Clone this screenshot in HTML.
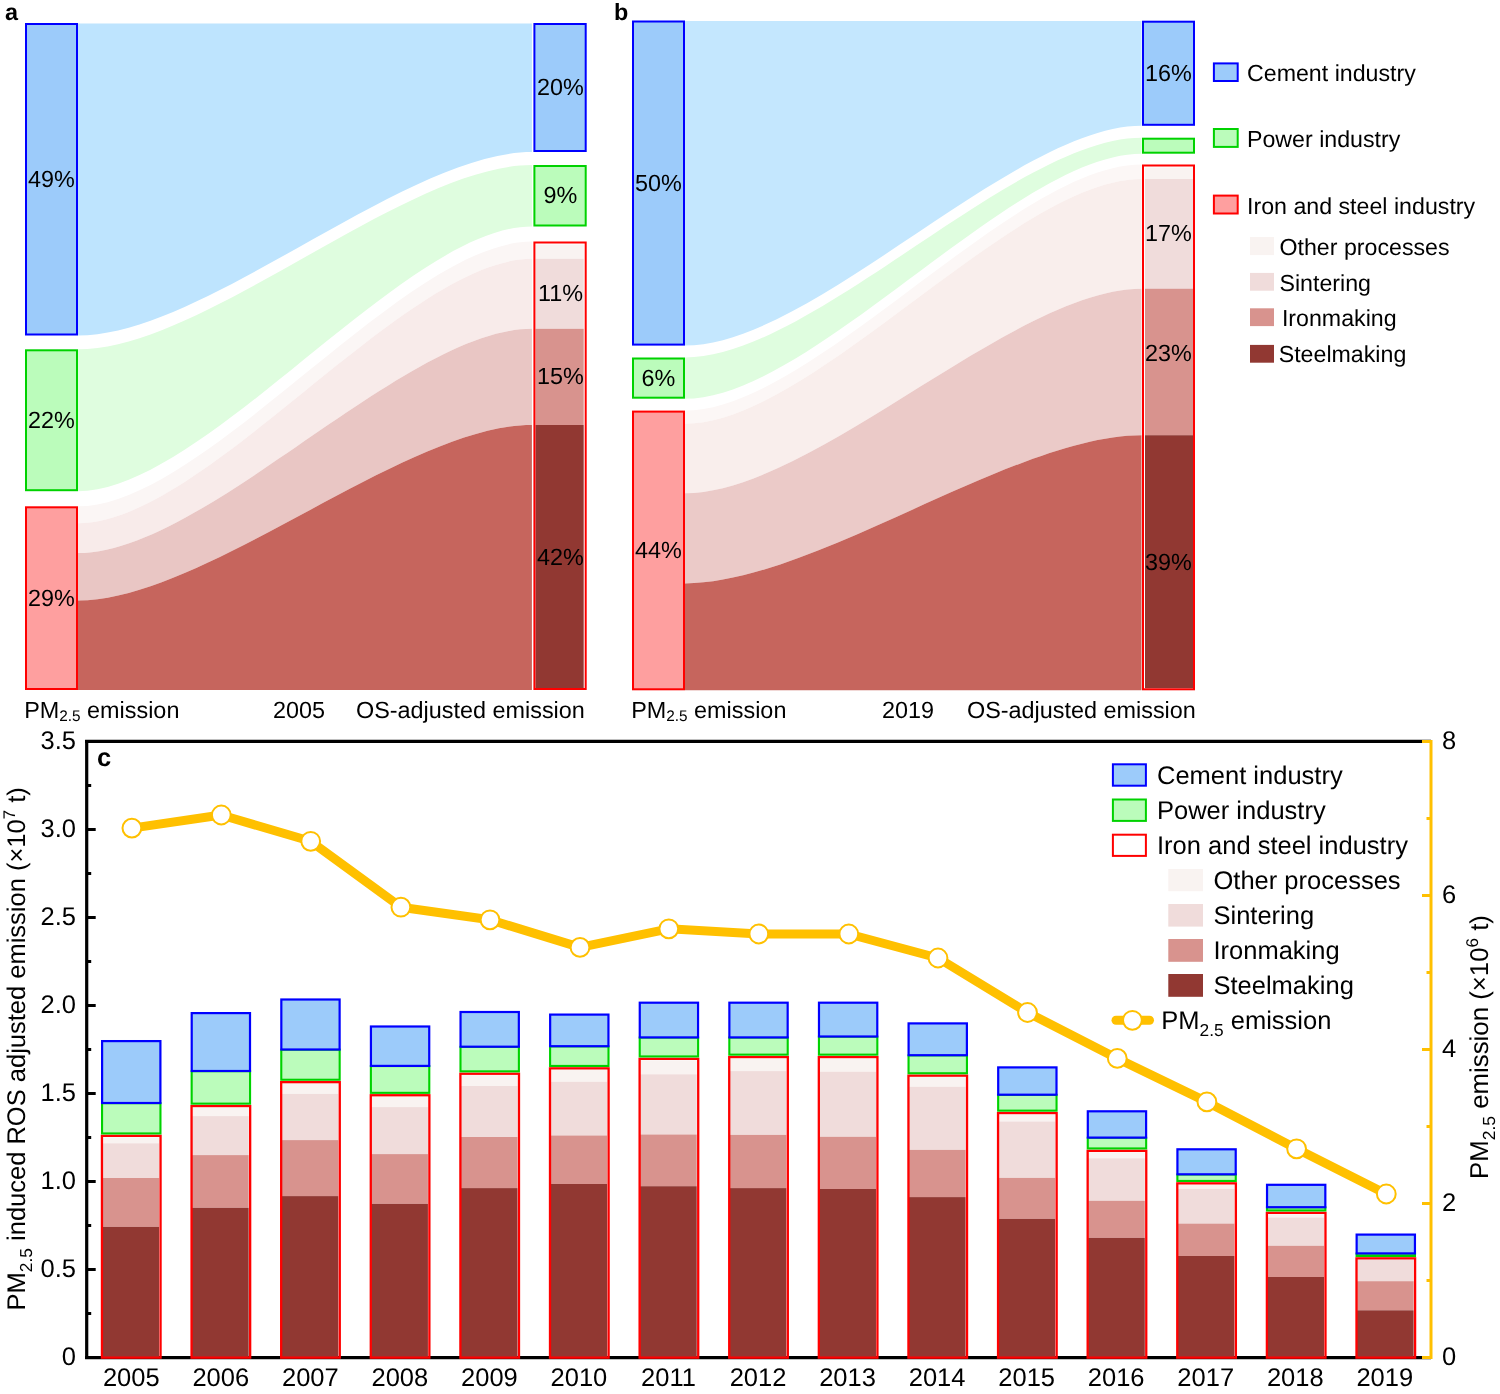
<!DOCTYPE html><html><head><meta charset="utf-8"><style>html,body{margin:0;padding:0;background:#fff;}svg{display:block;will-change:transform;text-rendering:geometricPrecision;}</style></head><body><svg width="1500" height="1394" viewBox="0 0 1500 1394" font-family='"Liberation Sans", sans-serif'>
<rect width="1500" height="1394" fill="#ffffff"/>
<path d="M78.00,23.50 C205.09,23.50 404.81,23.50 531.90,23.50 L531.90,152.00 C404.81,152.00 205.09,335.50 78.00,335.50 Z" fill="#bee4fe"/>
<path d="M78.00,349.30 C205.09,349.30 404.81,165.00 531.90,165.00 L531.90,226.50 C404.81,226.50 205.09,491.20 78.00,491.20 Z" fill="#dffddf"/>
<path d="M78.00,506.30 C205.09,506.30 404.81,241.50 531.90,241.50 L531.90,258.80 C404.81,258.80 205.09,523.20 78.00,523.20 Z" fill="#fbf6f5"/>
<path d="M78.00,523.20 C205.09,523.20 404.81,258.80 531.90,258.80 L531.90,328.80 C404.81,328.80 205.09,553.10 78.00,553.10 Z" fill="#f8ebea"/>
<path d="M78.00,553.10 C205.09,553.10 404.81,328.80 531.90,328.80 L531.90,425.00 C404.81,425.00 205.09,600.50 78.00,600.50 Z" fill="#e9c6c4"/>
<path d="M78.00,600.50 C205.09,600.50 404.81,425.00 531.90,425.00 L531.90,690.00 C404.81,690.00 205.09,690.00 78.00,690.00 Z" fill="#c6655d"/>
<rect x="26.00" y="24.00" width="51.00" height="310.50" fill="#9ccbfa" stroke="#0000ff" stroke-width="2"/>
<rect x="26.00" y="350.30" width="51.00" height="139.90" fill="#bbfcbb" stroke="#00d200" stroke-width="2"/>
<rect x="26.00" y="507.30" width="51.00" height="181.70" fill="#fe9f9f" stroke="#ff0000" stroke-width="2"/>
<rect x="534.40" y="24.00" width="51.30" height="127.00" fill="#9ccbfa" stroke="#0000ff" stroke-width="2"/>
<rect x="534.40" y="166.00" width="51.30" height="59.50" fill="#bbfcbb" stroke="#00d200" stroke-width="2"/>
<rect x="535.40" y="244.50" width="48.30" height="14.30" fill="#f9f3f1"/>
<rect x="535.40" y="258.80" width="48.30" height="70.00" fill="#f0dcdb"/>
<rect x="535.40" y="328.80" width="48.30" height="96.20" fill="#d8938e"/>
<rect x="535.40" y="425.00" width="48.30" height="263.00" fill="#913832"/>
<rect x="534.40" y="242.50" width="51.30" height="446.50" fill="none" stroke="#ff0000" stroke-width="2"/>
<text x="51.50" y="186.80" font-size="23.4" text-anchor="middle" font-weight="normal" >49%</text>
<text x="51.50" y="427.80" font-size="23.4" text-anchor="middle" font-weight="normal" >22%</text>
<text x="51.50" y="605.50" font-size="23.4" text-anchor="middle" font-weight="normal" >29%</text>
<text x="560.50" y="95.00" font-size="23.4" text-anchor="middle" font-weight="normal" >20%</text>
<text x="560.50" y="203.00" font-size="23.4" text-anchor="middle" font-weight="normal" >9%</text>
<text x="560.50" y="301.30" font-size="23.4" text-anchor="middle" font-weight="normal" >11%</text>
<text x="560.50" y="384.40" font-size="23.4" text-anchor="middle" font-weight="normal" >15%</text>
<text x="560.50" y="565.00" font-size="23.4" text-anchor="middle" font-weight="normal" >42%</text>
<path d="M685.00,21.00 C812.82,21.00 1013.68,21.00 1141.50,21.00 L1141.50,125.80 C1013.68,125.80 812.82,345.60 685.00,345.60 Z" fill="#c4e7fe"/>
<path d="M685.00,357.50 C812.82,357.50 1013.68,137.70 1141.50,137.70 L1141.50,153.70 C1013.68,153.70 812.82,398.70 685.00,398.70 Z" fill="#dffddf"/>
<path d="M685.00,410.60 C812.82,410.60 1013.68,164.50 1141.50,164.50 L1141.50,179.00 C1013.68,179.00 812.82,423.80 685.00,423.80 Z" fill="#fcf7f6"/>
<path d="M685.00,423.80 C812.82,423.80 1013.68,179.00 1141.50,179.00 L1141.50,288.70 C1013.68,288.70 812.82,493.20 685.00,493.20 Z" fill="#f9eeec"/>
<path d="M685.00,493.20 C812.82,493.20 1013.68,288.70 1141.50,288.70 L1141.50,435.20 C1013.68,435.20 812.82,583.40 685.00,583.40 Z" fill="#ebcac8"/>
<path d="M685.00,583.40 C812.82,583.40 1013.68,435.20 1141.50,435.20 L1141.50,690.30 C1013.68,690.30 812.82,690.30 685.00,690.30 Z" fill="#c6655d"/>
<rect x="633.00" y="21.50" width="51.00" height="323.10" fill="#9ccbfa" stroke="#0000ff" stroke-width="2"/>
<rect x="633.00" y="358.50" width="51.00" height="39.20" fill="#bbfcbb" stroke="#00d200" stroke-width="2"/>
<rect x="633.00" y="411.60" width="51.00" height="277.70" fill="#fe9f9f" stroke="#ff0000" stroke-width="2"/>
<rect x="1143.00" y="21.70" width="51.00" height="103.10" fill="#9ccbfa" stroke="#0000ff" stroke-width="2"/>
<rect x="1143.00" y="138.70" width="51.00" height="14.00" fill="#bbfcbb" stroke="#00d200" stroke-width="2"/>
<rect x="1145.00" y="167.50" width="48.00" height="11.50" fill="#f9f3f1"/>
<rect x="1145.00" y="179.00" width="48.00" height="109.70" fill="#f0dcdb"/>
<rect x="1145.00" y="288.70" width="48.00" height="146.50" fill="#d8938e"/>
<rect x="1145.00" y="435.20" width="48.00" height="253.10" fill="#913832"/>
<rect x="1143.00" y="165.50" width="51.00" height="523.80" fill="none" stroke="#ff0000" stroke-width="2"/>
<text x="658.50" y="190.50" font-size="23.4" text-anchor="middle" font-weight="normal" >50%</text>
<text x="658.50" y="385.50" font-size="23.4" text-anchor="middle" font-weight="normal" >6%</text>
<text x="658.50" y="558.00" font-size="23.4" text-anchor="middle" font-weight="normal" >44%</text>
<text x="1168.50" y="80.80" font-size="23.4" text-anchor="middle" font-weight="normal" >16%</text>
<text x="1168.50" y="241.40" font-size="23.4" text-anchor="middle" font-weight="normal" >17%</text>
<text x="1168.50" y="360.80" font-size="23.4" text-anchor="middle" font-weight="normal" >23%</text>
<text x="1168.50" y="570.20" font-size="23.4" text-anchor="middle" font-weight="normal" >39%</text>
<text x="5.00" y="20.30" font-size="23.4" text-anchor="start" font-weight="bold" >a</text>
<text x="614.00" y="20.00" font-size="23.4" text-anchor="start" font-weight="bold" >b</text>
<text x="24.20" y="717.60" font-size="23.4" text-anchor="start" font-weight="normal" >PM<tspan font-size="15.33" dy="3.74">2.5</tspan><tspan dy="-3.74"> </tspan>emission</text>
<text x="273.00" y="717.60" font-size="23.4" text-anchor="start" font-weight="normal" >2005</text>
<text x="356.00" y="717.60" font-size="23.4" text-anchor="start" font-weight="normal" >OS-adjusted emission</text>
<text x="631.20" y="717.60" font-size="23.4" text-anchor="start" font-weight="normal" >PM<tspan font-size="15.33" dy="3.74">2.5</tspan><tspan dy="-3.74"> </tspan>emission</text>
<text x="882.00" y="717.60" font-size="23.4" text-anchor="start" font-weight="normal" >2019</text>
<text x="967.00" y="717.60" font-size="23.4" text-anchor="start" font-weight="normal" >OS-adjusted emission</text>
<rect x="1213.90" y="63.40" width="23.80" height="17.60" fill="#9ccbfa" stroke="#0000ff" stroke-width="2"/>
<text x="1247.00" y="81.00" font-size="23.2" text-anchor="start" font-weight="normal" >Cement industry</text>
<rect x="1213.90" y="129.00" width="23.80" height="17.90" fill="#bbfcbb" stroke="#00d200" stroke-width="2"/>
<text x="1247.00" y="147.30" font-size="23.2" text-anchor="start" font-weight="normal" >Power industry</text>
<rect x="1213.90" y="195.60" width="23.80" height="17.90" fill="#fe9f9f" stroke="#ff0000" stroke-width="2"/>
<text x="1247.00" y="214.40" font-size="23.2" text-anchor="start" font-weight="normal" >Iron and steel industry</text>
<rect x="1250.00" y="237.00" width="24.00" height="18.10" fill="#f9f3f1"/>
<text x="1279.50" y="254.60" font-size="23.2" text-anchor="start" font-weight="normal" >Other processes</text>
<rect x="1250.00" y="272.90" width="24.00" height="17.80" fill="#f0dcdb"/>
<text x="1279.50" y="290.50" font-size="23.2" text-anchor="start" font-weight="normal" >Sintering</text>
<rect x="1250.00" y="308.30" width="24.00" height="17.80" fill="#d8938e"/>
<text x="1281.90" y="325.90" font-size="23.2" text-anchor="start" font-weight="normal" >Ironmaking</text>
<rect x="1250.00" y="344.90" width="24.00" height="17.80" fill="#913832"/>
<text x="1278.70" y="361.50" font-size="23.2" text-anchor="start" font-weight="normal" >Steelmaking</text>
<line x1="86.7" y1="739.9" x2="86.7" y2="1359.1" stroke="#000" stroke-width="3.2"/>
<line x1="85.10000000000001" y1="741.4" x2="1431" y2="741.4" stroke="#000" stroke-width="3.2"/>
<line x1="85.10000000000001" y1="1357.6" x2="1431" y2="1357.6" stroke="#000" stroke-width="3.2"/>
<rect x="102.40" y="1137.30" width="56.70" height="6.00" fill="#f9f3f1"/>
<rect x="102.40" y="1143.30" width="56.70" height="34.70" fill="#f0dcdb"/>
<rect x="102.40" y="1178.00" width="56.70" height="48.90" fill="#d8938e"/>
<rect x="102.40" y="1226.90" width="56.70" height="130.60" fill="#913832"/>
<rect x="101.95" y="1135.85" width="58.60" height="221.80" fill="none" stroke="#ff0000" stroke-width="2.3"/>
<rect x="102.05" y="1103.15" width="58.40" height="30.30" fill="#bbfcbb" stroke="#00d200" stroke-width="2.1"/>
<rect x="102.10" y="1041.10" width="58.30" height="61.90" fill="#9ccbfa" stroke="#0000ff" stroke-width="2.2"/>
<rect x="192.01" y="1107.50" width="56.70" height="8.60" fill="#f9f3f1"/>
<rect x="192.01" y="1116.10" width="56.70" height="39.00" fill="#f0dcdb"/>
<rect x="192.01" y="1155.10" width="56.70" height="52.70" fill="#d8938e"/>
<rect x="192.01" y="1207.80" width="56.70" height="149.70" fill="#913832"/>
<rect x="191.56" y="1106.05" width="58.60" height="251.60" fill="none" stroke="#ff0000" stroke-width="2.3"/>
<rect x="191.66" y="1071.15" width="58.40" height="32.50" fill="#bbfcbb" stroke="#00d200" stroke-width="2.1"/>
<rect x="191.71" y="1013.10" width="58.30" height="57.90" fill="#9ccbfa" stroke="#0000ff" stroke-width="2.2"/>
<rect x="281.62" y="1083.60" width="56.70" height="10.30" fill="#f9f3f1"/>
<rect x="281.62" y="1093.90" width="56.70" height="46.20" fill="#f0dcdb"/>
<rect x="281.62" y="1140.10" width="56.70" height="56.00" fill="#d8938e"/>
<rect x="281.62" y="1196.10" width="56.70" height="161.40" fill="#913832"/>
<rect x="281.17" y="1082.15" width="58.60" height="275.50" fill="none" stroke="#ff0000" stroke-width="2.3"/>
<rect x="281.27" y="1049.65" width="58.40" height="30.10" fill="#bbfcbb" stroke="#00d200" stroke-width="2.1"/>
<rect x="281.32" y="999.50" width="58.30" height="50.00" fill="#9ccbfa" stroke="#0000ff" stroke-width="2.2"/>
<rect x="371.23" y="1096.70" width="56.70" height="10.40" fill="#f9f3f1"/>
<rect x="371.23" y="1107.10" width="56.70" height="47.00" fill="#f0dcdb"/>
<rect x="371.23" y="1154.10" width="56.70" height="49.80" fill="#d8938e"/>
<rect x="371.23" y="1203.90" width="56.70" height="153.60" fill="#913832"/>
<rect x="370.78" y="1095.25" width="58.60" height="262.40" fill="none" stroke="#ff0000" stroke-width="2.3"/>
<rect x="370.88" y="1066.05" width="58.40" height="26.80" fill="#bbfcbb" stroke="#00d200" stroke-width="2.1"/>
<rect x="370.93" y="1026.50" width="58.30" height="39.40" fill="#9ccbfa" stroke="#0000ff" stroke-width="2.2"/>
<rect x="460.84" y="1075.20" width="56.70" height="10.80" fill="#f9f3f1"/>
<rect x="460.84" y="1086.00" width="56.70" height="51.00" fill="#f0dcdb"/>
<rect x="460.84" y="1137.00" width="56.70" height="51.10" fill="#d8938e"/>
<rect x="460.84" y="1188.10" width="56.70" height="169.40" fill="#913832"/>
<rect x="460.39" y="1073.75" width="58.60" height="283.90" fill="none" stroke="#ff0000" stroke-width="2.3"/>
<rect x="460.49" y="1046.85" width="58.40" height="24.50" fill="#bbfcbb" stroke="#00d200" stroke-width="2.1"/>
<rect x="460.54" y="1012.00" width="58.30" height="34.70" fill="#9ccbfa" stroke="#0000ff" stroke-width="2.2"/>
<rect x="550.45" y="1069.80" width="56.70" height="12.00" fill="#f9f3f1"/>
<rect x="550.45" y="1081.80" width="56.70" height="53.70" fill="#f0dcdb"/>
<rect x="550.45" y="1135.50" width="56.70" height="48.50" fill="#d8938e"/>
<rect x="550.45" y="1184.00" width="56.70" height="173.50" fill="#913832"/>
<rect x="550.00" y="1068.35" width="58.60" height="289.30" fill="none" stroke="#ff0000" stroke-width="2.3"/>
<rect x="550.10" y="1046.35" width="58.40" height="19.60" fill="#bbfcbb" stroke="#00d200" stroke-width="2.1"/>
<rect x="550.15" y="1014.60" width="58.30" height="31.60" fill="#9ccbfa" stroke="#0000ff" stroke-width="2.2"/>
<rect x="640.06" y="1060.30" width="56.70" height="14.00" fill="#f9f3f1"/>
<rect x="640.06" y="1074.30" width="56.70" height="60.20" fill="#f0dcdb"/>
<rect x="640.06" y="1134.50" width="56.70" height="51.70" fill="#d8938e"/>
<rect x="640.06" y="1186.20" width="56.70" height="171.30" fill="#913832"/>
<rect x="639.61" y="1058.85" width="58.60" height="298.80" fill="none" stroke="#ff0000" stroke-width="2.3"/>
<rect x="639.71" y="1037.55" width="58.40" height="18.90" fill="#bbfcbb" stroke="#00d200" stroke-width="2.1"/>
<rect x="639.76" y="1002.70" width="58.30" height="34.70" fill="#9ccbfa" stroke="#0000ff" stroke-width="2.2"/>
<rect x="729.67" y="1058.50" width="56.70" height="12.60" fill="#f9f3f1"/>
<rect x="729.67" y="1071.10" width="56.70" height="63.80" fill="#f0dcdb"/>
<rect x="729.67" y="1134.90" width="56.70" height="53.20" fill="#d8938e"/>
<rect x="729.67" y="1188.10" width="56.70" height="169.40" fill="#913832"/>
<rect x="729.22" y="1057.05" width="58.60" height="300.60" fill="none" stroke="#ff0000" stroke-width="2.3"/>
<rect x="729.32" y="1037.55" width="58.40" height="17.10" fill="#bbfcbb" stroke="#00d200" stroke-width="2.1"/>
<rect x="729.37" y="1002.70" width="58.30" height="34.70" fill="#9ccbfa" stroke="#0000ff" stroke-width="2.2"/>
<rect x="819.28" y="1058.50" width="56.70" height="13.20" fill="#f9f3f1"/>
<rect x="819.28" y="1071.70" width="56.70" height="65.10" fill="#f0dcdb"/>
<rect x="819.28" y="1136.80" width="56.70" height="52.20" fill="#d8938e"/>
<rect x="819.28" y="1189.00" width="56.70" height="168.50" fill="#913832"/>
<rect x="818.83" y="1057.05" width="58.60" height="300.60" fill="none" stroke="#ff0000" stroke-width="2.3"/>
<rect x="818.93" y="1036.65" width="58.40" height="18.00" fill="#bbfcbb" stroke="#00d200" stroke-width="2.1"/>
<rect x="818.98" y="1002.70" width="58.30" height="33.80" fill="#9ccbfa" stroke="#0000ff" stroke-width="2.2"/>
<rect x="908.89" y="1077.10" width="56.70" height="9.70" fill="#f9f3f1"/>
<rect x="908.89" y="1086.80" width="56.70" height="63.10" fill="#f0dcdb"/>
<rect x="908.89" y="1149.90" width="56.70" height="47.20" fill="#d8938e"/>
<rect x="908.89" y="1197.10" width="56.70" height="160.40" fill="#913832"/>
<rect x="908.44" y="1075.65" width="58.60" height="282.00" fill="none" stroke="#ff0000" stroke-width="2.3"/>
<rect x="908.54" y="1055.35" width="58.40" height="17.90" fill="#bbfcbb" stroke="#00d200" stroke-width="2.1"/>
<rect x="908.59" y="1023.40" width="58.30" height="31.80" fill="#9ccbfa" stroke="#0000ff" stroke-width="2.2"/>
<rect x="998.50" y="1114.50" width="56.70" height="7.00" fill="#f9f3f1"/>
<rect x="998.50" y="1121.50" width="56.70" height="56.40" fill="#f0dcdb"/>
<rect x="998.50" y="1177.90" width="56.70" height="41.00" fill="#d8938e"/>
<rect x="998.50" y="1218.90" width="56.70" height="138.60" fill="#913832"/>
<rect x="998.05" y="1113.05" width="58.60" height="244.60" fill="none" stroke="#ff0000" stroke-width="2.3"/>
<rect x="998.15" y="1094.85" width="58.40" height="15.80" fill="#bbfcbb" stroke="#00d200" stroke-width="2.1"/>
<rect x="998.20" y="1067.40" width="58.30" height="27.30" fill="#9ccbfa" stroke="#0000ff" stroke-width="2.2"/>
<rect x="1088.11" y="1152.30" width="56.70" height="6.00" fill="#f9f3f1"/>
<rect x="1088.11" y="1158.30" width="56.70" height="42.50" fill="#f0dcdb"/>
<rect x="1088.11" y="1200.80" width="56.70" height="37.10" fill="#d8938e"/>
<rect x="1088.11" y="1237.90" width="56.70" height="119.60" fill="#913832"/>
<rect x="1087.66" y="1150.85" width="58.60" height="206.80" fill="none" stroke="#ff0000" stroke-width="2.3"/>
<rect x="1087.76" y="1137.75" width="58.40" height="10.70" fill="#bbfcbb" stroke="#00d200" stroke-width="2.1"/>
<rect x="1087.81" y="1111.30" width="58.30" height="26.30" fill="#9ccbfa" stroke="#0000ff" stroke-width="2.2"/>
<rect x="1177.72" y="1184.80" width="56.70" height="4.10" fill="#f9f3f1"/>
<rect x="1177.72" y="1188.90" width="56.70" height="34.70" fill="#f0dcdb"/>
<rect x="1177.72" y="1223.60" width="56.70" height="32.40" fill="#d8938e"/>
<rect x="1177.72" y="1256.00" width="56.70" height="101.50" fill="#913832"/>
<rect x="1177.27" y="1183.35" width="58.60" height="174.30" fill="none" stroke="#ff0000" stroke-width="2.3"/>
<rect x="1177.37" y="1174.45" width="58.40" height="6.50" fill="#bbfcbb" stroke="#00d200" stroke-width="2.1"/>
<rect x="1177.42" y="1149.30" width="58.30" height="25.00" fill="#9ccbfa" stroke="#0000ff" stroke-width="2.2"/>
<rect x="1267.33" y="1214.30" width="56.70" height="3.20" fill="#f9f3f1"/>
<rect x="1267.33" y="1217.50" width="56.70" height="28.30" fill="#f0dcdb"/>
<rect x="1267.33" y="1245.80" width="56.70" height="31.20" fill="#d8938e"/>
<rect x="1267.33" y="1277.00" width="56.70" height="80.50" fill="#913832"/>
<rect x="1266.88" y="1212.85" width="58.60" height="144.80" fill="none" stroke="#ff0000" stroke-width="2.3"/>
<rect x="1266.98" y="1207.35" width="58.40" height="3.10" fill="#bbfcbb" stroke="#00d200" stroke-width="2.1"/>
<rect x="1267.03" y="1184.80" width="58.30" height="22.40" fill="#9ccbfa" stroke="#0000ff" stroke-width="2.2"/>
<rect x="1356.94" y="1259.80" width="56.70" height="-0.10" fill="#f9f3f1"/>
<rect x="1356.94" y="1259.70" width="56.70" height="21.50" fill="#f0dcdb"/>
<rect x="1356.94" y="1281.20" width="56.70" height="29.10" fill="#d8938e"/>
<rect x="1356.94" y="1310.30" width="56.70" height="47.20" fill="#913832"/>
<rect x="1356.49" y="1258.35" width="58.60" height="99.30" fill="none" stroke="#ff0000" stroke-width="2.3"/>
<rect x="1356.59" y="1253.55" width="58.40" height="2.40" fill="#bbfcbb" stroke="#00d200" stroke-width="2.1"/>
<rect x="1356.64" y="1234.60" width="58.30" height="18.80" fill="#9ccbfa" stroke="#0000ff" stroke-width="2.2"/>
<text x="76.00" y="1365.00" font-size="25.5" text-anchor="end" font-weight="normal" >0</text>
<line x1="86.7" y1="1313.50" x2="91.20" y2="1313.50" stroke="#000" stroke-width="3"/>
<line x1="86.7" y1="1269.50" x2="95.70" y2="1269.50" stroke="#000" stroke-width="3"/>
<text x="76.00" y="1277.00" font-size="25.5" text-anchor="end" font-weight="normal" >0.5</text>
<line x1="86.7" y1="1225.50" x2="91.20" y2="1225.50" stroke="#000" stroke-width="3"/>
<line x1="86.7" y1="1181.50" x2="95.70" y2="1181.50" stroke="#000" stroke-width="3"/>
<text x="76.00" y="1189.00" font-size="25.5" text-anchor="end" font-weight="normal" >1.0</text>
<line x1="86.7" y1="1137.50" x2="91.20" y2="1137.50" stroke="#000" stroke-width="3"/>
<line x1="86.7" y1="1093.50" x2="95.70" y2="1093.50" stroke="#000" stroke-width="3"/>
<text x="76.00" y="1101.00" font-size="25.5" text-anchor="end" font-weight="normal" >1.5</text>
<line x1="86.7" y1="1049.50" x2="91.20" y2="1049.50" stroke="#000" stroke-width="3"/>
<line x1="86.7" y1="1005.50" x2="95.70" y2="1005.50" stroke="#000" stroke-width="3"/>
<text x="76.00" y="1013.00" font-size="25.5" text-anchor="end" font-weight="normal" >2.0</text>
<line x1="86.7" y1="961.50" x2="91.20" y2="961.50" stroke="#000" stroke-width="3"/>
<line x1="86.7" y1="917.50" x2="95.70" y2="917.50" stroke="#000" stroke-width="3"/>
<text x="76.00" y="925.00" font-size="25.5" text-anchor="end" font-weight="normal" >2.5</text>
<line x1="86.7" y1="873.50" x2="91.20" y2="873.50" stroke="#000" stroke-width="3"/>
<line x1="86.7" y1="829.50" x2="95.70" y2="829.50" stroke="#000" stroke-width="3"/>
<text x="76.00" y="837.00" font-size="25.5" text-anchor="end" font-weight="normal" >3.0</text>
<line x1="86.7" y1="785.50" x2="91.20" y2="785.50" stroke="#000" stroke-width="3"/>
<text x="76.00" y="749.00" font-size="25.5" text-anchor="end" font-weight="normal" >3.5</text>
<line x1="1431" y1="739.9" x2="1431" y2="1359.1" stroke="#ffc000" stroke-width="3"/>
<line x1="1431" y1="1357.50" x2="1422.00" y2="1357.50" stroke="#ffc000" stroke-width="3"/>
<text x="1442.00" y="1365.00" font-size="25.5" text-anchor="start" font-weight="normal" >0</text>
<line x1="1431" y1="1280.50" x2="1426.50" y2="1280.50" stroke="#ffc000" stroke-width="3"/>
<line x1="1431" y1="1203.50" x2="1422.00" y2="1203.50" stroke="#ffc000" stroke-width="3"/>
<text x="1442.00" y="1211.00" font-size="25.5" text-anchor="start" font-weight="normal" >2</text>
<line x1="1431" y1="1126.50" x2="1426.50" y2="1126.50" stroke="#ffc000" stroke-width="3"/>
<line x1="1431" y1="1049.50" x2="1422.00" y2="1049.50" stroke="#ffc000" stroke-width="3"/>
<text x="1442.00" y="1057.00" font-size="25.5" text-anchor="start" font-weight="normal" >4</text>
<line x1="1431" y1="972.50" x2="1426.50" y2="972.50" stroke="#ffc000" stroke-width="3"/>
<line x1="1431" y1="895.50" x2="1422.00" y2="895.50" stroke="#ffc000" stroke-width="3"/>
<text x="1442.00" y="903.00" font-size="25.5" text-anchor="start" font-weight="normal" >6</text>
<line x1="1431" y1="818.50" x2="1426.50" y2="818.50" stroke="#ffc000" stroke-width="3"/>
<line x1="1431" y1="741.50" x2="1422.00" y2="741.50" stroke="#ffc000" stroke-width="3"/>
<text x="1442.00" y="749.00" font-size="25.5" text-anchor="start" font-weight="normal" >8</text>
<text x="131.25" y="1385.90" font-size="25.5" text-anchor="middle" font-weight="normal" >2005</text>
<text x="220.79" y="1385.90" font-size="25.5" text-anchor="middle" font-weight="normal" >2006</text>
<text x="310.33" y="1385.90" font-size="25.5" text-anchor="middle" font-weight="normal" >2007</text>
<text x="399.87" y="1385.90" font-size="25.5" text-anchor="middle" font-weight="normal" >2008</text>
<text x="489.41" y="1385.90" font-size="25.5" text-anchor="middle" font-weight="normal" >2009</text>
<text x="578.95" y="1385.90" font-size="25.5" text-anchor="middle" font-weight="normal" >2010</text>
<text x="668.49" y="1385.90" font-size="25.5" text-anchor="middle" font-weight="normal" >2011</text>
<text x="758.03" y="1385.90" font-size="25.5" text-anchor="middle" font-weight="normal" >2012</text>
<text x="847.57" y="1385.90" font-size="25.5" text-anchor="middle" font-weight="normal" >2013</text>
<text x="937.11" y="1385.90" font-size="25.5" text-anchor="middle" font-weight="normal" >2014</text>
<text x="1026.65" y="1385.90" font-size="25.5" text-anchor="middle" font-weight="normal" >2015</text>
<text x="1116.19" y="1385.90" font-size="25.5" text-anchor="middle" font-weight="normal" >2016</text>
<text x="1205.73" y="1385.90" font-size="25.5" text-anchor="middle" font-weight="normal" >2017</text>
<text x="1295.27" y="1385.90" font-size="25.5" text-anchor="middle" font-weight="normal" >2018</text>
<text x="1384.81" y="1385.90" font-size="25.5" text-anchor="middle" font-weight="normal" >2019</text>
<path d="M131.9,828.1 L221.3,815.0 L310.7,841.3 L400.9,907.2 L490.0,919.8 L580.0,947.4 L668.8,928.8 L758.8,934.0 L848.8,934.0 L938.0,958.0 L1027.5,1012.5 L1117.3,1058.4 L1206.9,1101.9 L1296.6,1148.8 L1386.3,1194.0" fill="none" stroke="#ffc000" stroke-width="9" stroke-linejoin="round"/>
<circle cx="131.9" cy="828.1" r="9.4" fill="#fff" stroke="#ffc000" stroke-width="2"/>
<circle cx="221.3" cy="815" r="9.4" fill="#fff" stroke="#ffc000" stroke-width="2"/>
<circle cx="310.7" cy="841.3" r="9.4" fill="#fff" stroke="#ffc000" stroke-width="2"/>
<circle cx="400.9" cy="907.2" r="9.4" fill="#fff" stroke="#ffc000" stroke-width="2"/>
<circle cx="490" cy="919.8" r="9.4" fill="#fff" stroke="#ffc000" stroke-width="2"/>
<circle cx="580" cy="947.4" r="9.4" fill="#fff" stroke="#ffc000" stroke-width="2"/>
<circle cx="668.8" cy="928.8" r="9.4" fill="#fff" stroke="#ffc000" stroke-width="2"/>
<circle cx="758.8" cy="934" r="9.4" fill="#fff" stroke="#ffc000" stroke-width="2"/>
<circle cx="848.8" cy="934" r="9.4" fill="#fff" stroke="#ffc000" stroke-width="2"/>
<circle cx="938" cy="958" r="9.4" fill="#fff" stroke="#ffc000" stroke-width="2"/>
<circle cx="1027.5" cy="1012.5" r="9.4" fill="#fff" stroke="#ffc000" stroke-width="2"/>
<circle cx="1117.3" cy="1058.4" r="9.4" fill="#fff" stroke="#ffc000" stroke-width="2"/>
<circle cx="1206.9" cy="1101.9" r="9.4" fill="#fff" stroke="#ffc000" stroke-width="2"/>
<circle cx="1296.6" cy="1148.8" r="9.4" fill="#fff" stroke="#ffc000" stroke-width="2"/>
<circle cx="1386.3" cy="1194" r="9.4" fill="#fff" stroke="#ffc000" stroke-width="2"/>
<text x="97.00" y="766.00" font-size="25.5" text-anchor="start" font-weight="bold" >c</text>
<rect x="1112.90" y="764.30" width="33.00" height="21.40" fill="#9ccbfa" stroke="#0000ff" stroke-width="2"/>
<text x="1157.00" y="784.00" font-size="25.5" text-anchor="start" font-weight="normal" >Cement industry</text>
<rect x="1112.90" y="799.50" width="33.00" height="21.40" fill="#bbfcbb" stroke="#00d200" stroke-width="2"/>
<text x="1157.00" y="819.00" font-size="25.5" text-anchor="start" font-weight="normal" >Power industry</text>
<rect x="1112.90" y="834.70" width="33.00" height="21.20" fill="#ffffff" stroke="#ff0000" stroke-width="2"/>
<text x="1157.00" y="854.20" font-size="25.5" text-anchor="start" font-weight="normal" >Iron and steel industry</text>
<rect x="1168.30" y="869.00" width="34.70" height="22.20" fill="#f9f3f1"/>
<text x="1213.50" y="889.00" font-size="25.5" text-anchor="start" font-weight="normal" >Other processes</text>
<rect x="1168.30" y="904.00" width="34.70" height="22.60" fill="#f0dcdb"/>
<text x="1213.50" y="924.20" font-size="25.5" text-anchor="start" font-weight="normal" >Sintering</text>
<rect x="1168.30" y="939.00" width="34.70" height="22.80" fill="#d8938e"/>
<text x="1213.50" y="959.30" font-size="25.5" text-anchor="start" font-weight="normal" >Ironmaking</text>
<rect x="1168.30" y="974.00" width="34.70" height="22.80" fill="#913832"/>
<text x="1213.50" y="994.40" font-size="25.5" text-anchor="start" font-weight="normal" >Steelmaking</text>
<line x1="1116" y1="1020.3" x2="1149.5" y2="1020.3" stroke="#ffc000" stroke-width="9" stroke-linecap="round"/>
<circle cx="1132.4" cy="1020.3" r="9.4" fill="#fff" stroke="#ffc000" stroke-width="2"/>
<text x="1161.30" y="1028.80" font-size="25.5" text-anchor="start" font-weight="normal" >PM<tspan font-size="17.34" dy="7.39">2.5</tspan><tspan dy="-7.39"> </tspan>emission</text>
<text transform="translate(24.9,1310.4) rotate(-90)" font-size="25.5">PM<tspan font-size="17.34" dy="6.89">2.5</tspan><tspan dy="-6.89"> </tspan>induced ROS adjusted emission (×10<tspan font-size="16.83" dy="-9.69">7</tspan><tspan dy="9.69"> t)</tspan></text>
<text transform="translate(1487.6,1179) rotate(-90)" font-size="25.8">PM<tspan font-size="17.54" dy="6.97">2.5</tspan><tspan dy="-6.97"> </tspan>emission (×10<tspan font-size="17.03" dy="-9.80">6</tspan><tspan dy="9.80"> t)</tspan></text>
</svg></body></html>
